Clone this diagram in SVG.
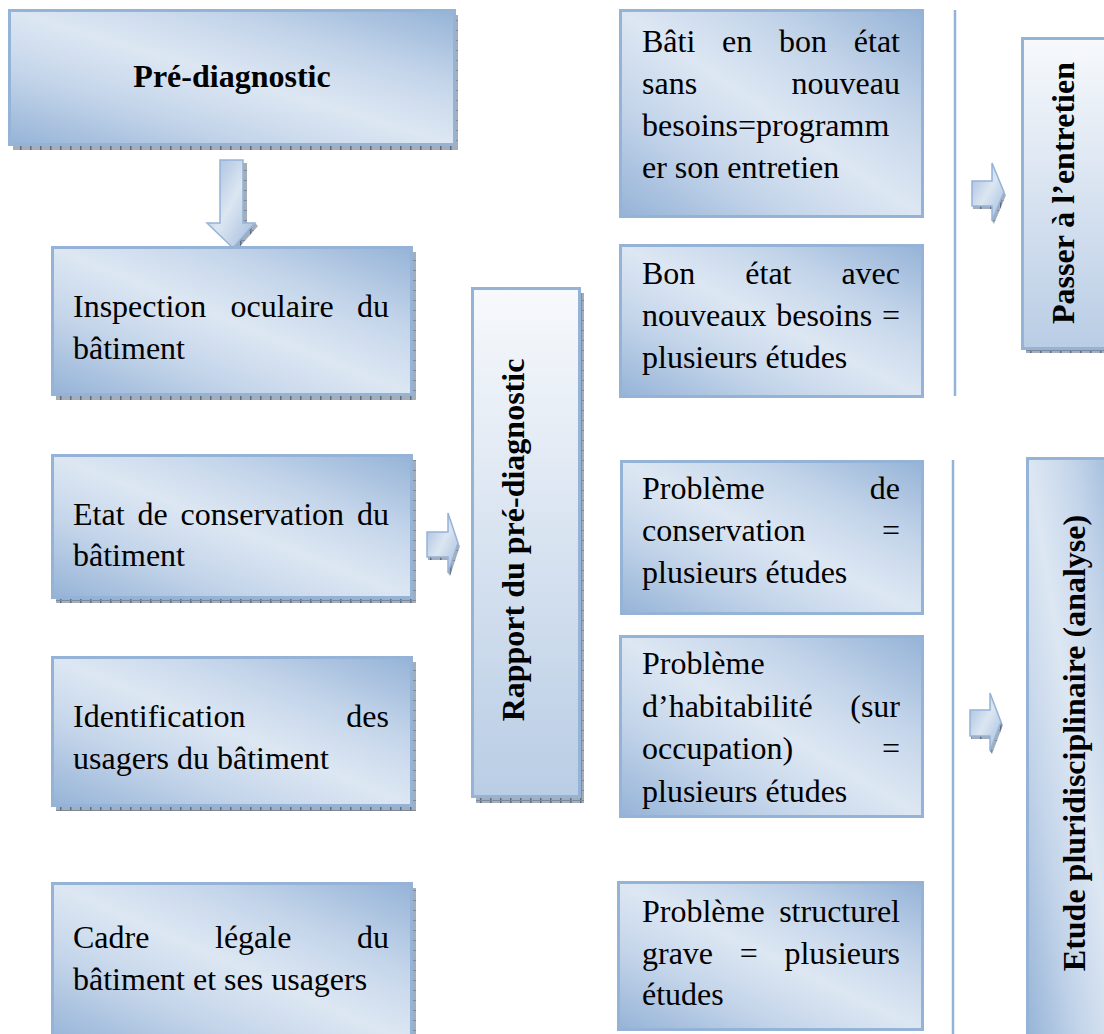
<svg xmlns="http://www.w3.org/2000/svg" width="1104" height="1034" viewBox="0 0 1104 1034">
  <style>
    .t { font-family: "Liberation Serif", "Times New Roman", serif; font-size: 32px; fill: #000; }
    .b { font-family: "Liberation Serif", "Times New Roman", serif; font-size: 32px; font-weight: bold; fill: #000; }
    .box { fill: url(#gDiag); stroke: #95b3d7; stroke-width: 3; }
    .pale { fill: url(#gPale); stroke: #95b3d7; stroke-width: 3; }
    .shadow { fill: url(#hatch); }
    .arrow { fill: url(#gArrow); stroke: #95b3d7; stroke-width: 1.5; stroke-linejoin: miter; }
    .sep { stroke: #95b3d7; stroke-width: 2.5; fill: none; }
  </style>
  <defs>
    <linearGradient id="gDiag" x1="0" y1="1" x2="1" y2="0">
      <stop offset="0" stop-color="#95b3d7"/>
      <stop offset="0.28" stop-color="#c4d5ea"/>
      <stop offset="0.5" stop-color="#dde7f3"/>
      <stop offset="0.72" stop-color="#c4d5ea"/>
      <stop offset="1" stop-color="#95b3d7"/>
    </linearGradient>
    <linearGradient id="gPale" x1="0" y1="0" x2="0" y2="1">
      <stop offset="0" stop-color="#f7f9fc"/>
      <stop offset="1" stop-color="#b9cde5"/>
    </linearGradient>
    <linearGradient id="gArrow" x1="0" y1="0" x2="1" y2="1">
      <stop offset="0" stop-color="#9fbadb"/>
      <stop offset="0.5" stop-color="#dce6f2"/>
      <stop offset="1" stop-color="#9fbadb"/>
    </linearGradient>
    <pattern id="hatch" width="10" height="10" patternUnits="userSpaceOnUse">
      <rect width="10" height="10" fill="#a4aebb"/>
      <rect width="1.5" height="10" fill="#5d6c80"/>
      <rect width="10" height="1" fill="#7d8a9b"/>
    </pattern>
  </defs>

  <!-- connectors: block arrows and separator lines -->
  <g id="connectors">
    <path class="shadow" d="M243,163 H247 V223 H243 Z M255,223 L258,226 L236,251 L233,248 Z"/>
    <path class="arrow" d="M220,160 H243 V223 H255 L233,248 L207,223 H220 Z"/>

    <path class="shadow" d="M428,557 H448 V560 H428 Z M458,543 L460,546 L450,576 L448,573 Z"/>
    <path class="arrow" d="M427,532 H448 V513 L458,543 L448,573 V557 H427 Z"/>

    <path class="shadow" d="M973,206 H992 V209 H973 Z M1004,192 L1006,195 L994,224 L992,221 Z"/>
    <path class="arrow" d="M972,181 H992 V163 L1004,192 L992,221 V206 H972 Z"/>

    <path class="shadow" d="M971,736 H990 V739 H971 Z M1001,722 L1003,725 L992,754 L990,751 Z"/>
    <path class="arrow" d="M970,710 H990 V693 L1001,722 L990,751 V736 H970 Z"/>

    <line class="sep" x1="955" y1="10" x2="955" y2="396"/>
    <line class="sep" x1="953" y1="460" x2="953" y2="1034"/>
  </g>

  <!-- left column -->
  <g id="node-prediagnostic">
    <rect class="shadow" x="13" y="15" width="445" height="135"/>
    <rect class="box" x="9.5" y="10.5" width="445" height="134"/>
    <text class="b" x="232" y="87" text-anchor="middle">Pré-diagnostic</text>
  </g>

  <g id="node-inspection">
    <rect class="shadow" x="56" y="252" width="360" height="148"/>
    <rect class="box" x="52.5" y="247.5" width="359" height="147"/>
    <text class="t" y="317"><tspan x="73">Inspection</tspan><tspan x="230.6">oculaire</tspan><tspan x="389" text-anchor="end">du</tspan></text>
    <text class="t" x="73" y="359">bâtiment</text>
  </g>

  <g id="node-etat">
    <rect class="shadow" x="56" y="460" width="360" height="143"/>
    <rect class="box" x="52.5" y="455.5" width="359" height="142"/>
    <text class="t" y="525"><tspan x="73">Etat</tspan><tspan x="137.5">de</tspan><tspan x="180.6">conservation</tspan><tspan x="389" text-anchor="end">du</tspan></text>
    <text class="t" x="73" y="566">bâtiment</text>
  </g>

  <g id="node-identification">
    <rect class="shadow" x="56" y="662" width="360" height="149"/>
    <rect class="box" x="52.5" y="657.5" width="359" height="148"/>
    <text class="t" y="727"><tspan x="73">Identification</tspan><tspan x="389" text-anchor="end">des</tspan></text>
    <text class="t" x="73" y="769">usagers du bâtiment</text>
  </g>

  <g id="node-cadre">
    <rect class="shadow" x="56" y="888" width="360" height="160"/>
    <rect class="box" x="52.5" y="883.5" width="359" height="160"/>
    <text class="t" y="948"><tspan x="73">Cadre</tspan><tspan x="215">légale</tspan><tspan x="389" text-anchor="end">du</tspan></text>
    <text class="t" x="73" y="990">bâtiment et ses usagers</text>
  </g>

  <!-- report column -->
  <g id="node-rapport">
    <rect class="shadow" x="476" y="293" width="108" height="510"/>
    <rect class="pale" x="472.5" y="288.5" width="107" height="508"/>
    <text class="b" transform="translate(524,540) rotate(-90)" text-anchor="middle">Rapport du pré-diagnostic</text>
  </g>

  <!-- outcome column -->
  <g id="node-bon-etat">
    <rect class="box" x="620.5" y="10.5" width="302" height="206"/>
    <text class="t" y="52"><tspan x="642">Bâti</tspan><tspan x="722.1">en</tspan><tspan x="779.1">bon</tspan><tspan x="900" text-anchor="end">état</tspan></text>
    <text class="t" y="94"><tspan x="642">sans</tspan><tspan x="900" text-anchor="end">nouveau</tspan></text>
    <text class="t" x="642" y="136">besoins=programm</text>
    <text class="t" x="642" y="178">er son entretien</text>
  </g>

  <g id="node-nouveaux-besoins">
    <rect class="box" x="620.5" y="245.5" width="302" height="151"/>
    <text class="t" y="284"><tspan x="642">Bon</tspan><tspan x="745.3">état</tspan><tspan x="900" text-anchor="end">avec</tspan></text>
    <text class="t" y="326"><tspan x="642">nouveaux</tspan><tspan x="776.2">besoins</tspan><tspan x="900" text-anchor="end">=</tspan></text>
    <text class="t" x="642" y="368">plusieurs études</text>
  </g>

  <g id="node-conservation">
    <rect class="box" x="621.5" y="461.5" width="301" height="152"/>
    <text class="t" y="499"><tspan x="642">Problème</tspan><tspan x="900" text-anchor="end">de</tspan></text>
    <text class="t" y="541"><tspan x="642">conservation</tspan><tspan x="900" text-anchor="end">=</tspan></text>
    <text class="t" x="642" y="583">plusieurs études</text>
  </g>

  <g id="node-habitabilite">
    <rect class="box" x="620.5" y="636.5" width="302" height="180"/>
    <text class="t" x="642" y="674">Problème</text>
    <text class="t" y="717"><tspan x="642">d’habitabilité</tspan><tspan x="900" text-anchor="end">(sur</tspan></text>
    <text class="t" y="759"><tspan x="642">occupation)</tspan><tspan x="900" text-anchor="end">=</tspan></text>
    <text class="t" x="642" y="802">plusieurs études</text>
  </g>

  <g id="node-structurel">
    <rect class="box" x="618.5" y="882.5" width="304" height="147"/>
    <text class="t" y="922"><tspan x="642">Problème</tspan><tspan x="900" text-anchor="end">structurel</tspan></text>
    <text class="t" y="964"><tspan x="642">grave</tspan><tspan x="739.8">=</tspan><tspan x="900" text-anchor="end">plusieurs</tspan></text>
    <text class="t" x="642" y="1005">études</text>
  </g>

  <!-- follow-up column -->
  <g id="node-entretien">
    <rect class="shadow" x="1026" y="43" width="100" height="310"/>
    <rect class="pale" x="1022.5" y="38.5" width="100" height="310"/>
    <text class="b" transform="translate(1074,193) rotate(-90)" text-anchor="middle">Passer à l’entretien</text>
  </g>

  <g id="node-etude">
    <rect class="box" x="1027.5" y="458.5" width="100" height="590"/>
    <text class="b" transform="translate(1085,743) rotate(-90)" text-anchor="middle">Etude pluridisciplinaire (analyse)</text>
  </g>
</svg>
